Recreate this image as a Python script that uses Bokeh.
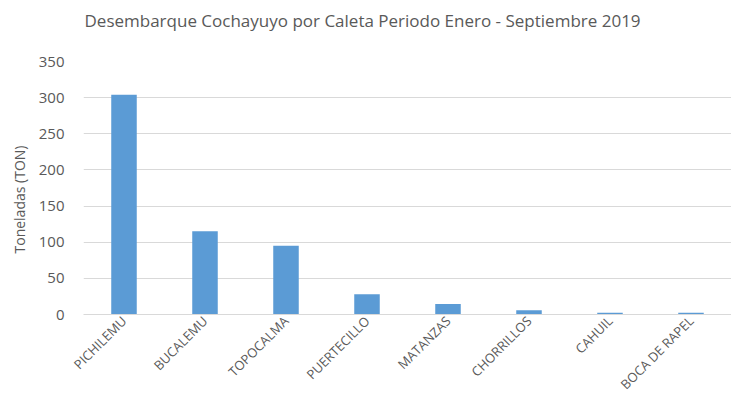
import math
from bokeh.plotting import figure
from bokeh.models import ColumnDataSource, Range1d, FixedTicker, Title
from bokeh.embed import file_html
from bokeh.resources import INLINE

categories = ["PICHILEMU", "BUCALEMU", "TOPOCALMA", "PUERTECILLO", "MATANZAS",
              "CHORRILLOS", "CAHUIL", "BOCA DE RAPEL"]
toneladas = [304, 115, 95, 28, 14.5, 6, 2.5, 2.5]
y_ticks = [0, 50, 100, 150, 200, 250, 300, 350]

FONT = "Open Sans"
TXT = "#595959"

xpos = [i + 0.5 for i in range(len(categories))]
source = ColumnDataSource(dict(x=xpos, top=toneladas, cat=categories))

p = figure(width=731, height=402, output_backend="svg", toolbar_location=None,
           x_range=Range1d(0, len(categories)), y_range=Range1d(0, 350),
           min_border_left=83, min_border_right=0, min_border_top=61,
           min_border_bottom=88, outline_line_color=None)

# blank spacer panel between the frame and the title
p.add_layout(Title(text=" ", standoff=25, text_font=FONT, text_font_size="1px"),
             "above")
p.add_layout(Title(text="Desembarque Cochayuyo por Caleta Periodo Enero - Septiembre 2019",
                   align="left", offset=1, vertical_align="top", standoff=0,
                   text_font=FONT, text_font_size="17px", text_color=TXT,
                   text_font_style="normal"), "above")

p.add_layout(Title(text="Toneladas (TON)", align="left", offset=61, standoff=14,
                   text_font=FONT, text_font_size="14px", text_color=TXT,
                   text_font_style="normal"), "left")

p.vbar(x="x", top="top", width=0.315, source=source, fill_color="#5B9BD5",
       line_color=None)

p.xgrid.visible = False
p.ygrid.grid_line_color = "#D9D9D9"
p.ygrid.ticker = FixedTicker(ticks=y_ticks)

p.yaxis.ticker = FixedTicker(ticks=y_ticks)
p.yaxis.axis_line_color = None
p.yaxis.major_tick_line_color = None
p.yaxis.minor_tick_line_color = None
p.yaxis.major_tick_out = 0
p.yaxis.major_label_text_font = FONT
p.yaxis.major_label_text_font_size = "15px"
p.yaxis.major_label_text_color = TXT
p.yaxis.major_label_standoff = 19

xaxis = p.below[0]
xaxis.ticker = FixedTicker(ticks=xpos)
xaxis.major_label_overrides = {xv: c for xv, c in zip(xpos, categories)}
xaxis.axis_line_color = "#D9D9D9"
xaxis.major_tick_line_color = None
xaxis.minor_tick_line_color = None
xaxis.major_tick_out = 0
xaxis.major_label_orientation = math.pi / 4
xaxis.major_label_text_font = FONT
xaxis.major_label_text_font_size = "13px"
xaxis.major_label_text_color = TXT
xaxis.major_label_standoff = 4

open("out.html", "w").write(file_html(p, INLINE))
